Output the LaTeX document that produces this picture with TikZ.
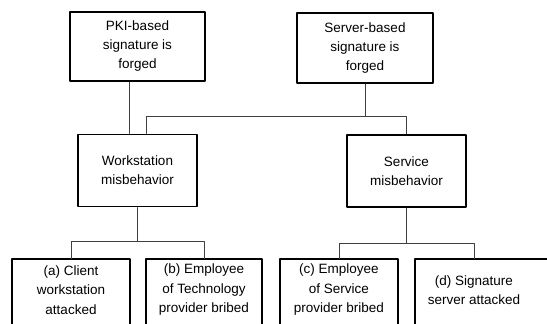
\documentclass[tikz,border=0pt]{standalone}
\usepackage{fontspec}
\setmainfont{Liberation Sans}
\usepackage{tikz}
\definecolor{linkgray}{rgb}{0.25,0.25,0.25}
\tikzset{
  goal/.style={draw,line width=1.9pt,align=center,inner sep=0pt,
    font=\fontsize{13.5}{19}\selectfont},
  leaf/.style={align=center,inner sep=0pt,minimum width=118pt,minimum height=62pt,
    font=\fontsize{13.5}{19.5}\selectfont},
  link/.style={line width=0.6pt,color=linkgray}
}

\begin{document}
\begin{tikzpicture}[line cap=round,line join=round,x=1pt,y=-1pt]
\useasboundingbox (0,0) rectangle (547,324);
\clip (0,0) rectangle (547,324);
\fill[white] (0,0) rectangle (547,324);
\node[goal,minimum width=135pt,minimum height=69pt] (pki) at (137.5,46.5) {PKI-based\\signature is\\forged};
\node[goal,minimum width=136pt,minimum height=70pt] (server) at (365,48) {Server-based\\signature is\\forged};
\node[goal,minimum width=119pt,minimum height=72pt] (work) at (137.5,170.5) {Workstation\\misbehavior};
\node[goal,minimum width=119pt,minimum height=72pt] (serv) at (406.5,171) {Service\\misbehavior};
\node[leaf] (a) at (71,290) {(a) Client\\workstation\\attacked};
\node[leaf,minimum width=116pt] (b) at (204,290) {(b) Employee\\of Technology\\provider bribed};
\node[leaf] (c) at (339,290) {(c) Employee\\of Service\\provider bribed};
\node[leaf] (d) at (474,290) {(d) Signature\\server attacked};
\foreach \n in {a,b,c}
  \draw[line width=1.9pt] ([yshift=-12pt]\n.south west) |- (\n.north east) -- ([yshift=-12pt]\n.south east);
% box d runs off the right edge
\draw[line width=1.9pt] ([yshift=-12pt]d.south west) |- ([xshift=30pt]d.north east);
\coordinate (pkiout) at ([xshift=-8.5pt]pki.south);
\draw[link] (pkiout) -- (pkiout |- work.north);
\coordinate (busin) at ([xshift=8.5pt]work.north);
\draw[link] (busin) -- ++(0,-17.5) coordinate (busy) -| (serv.north);
\draw[link] (server.south) -- (server.south |- busy);
\draw[link] (work.south) -- ++(0,34) coordinate (lowl);
\draw[link] (a.north) |- (lowl) -| (b.north);
\draw[link] (serv.south) -- ++(0,35) coordinate (lowr);
\draw[link] (c.north) |- (lowr) -| (d.north);
\end{tikzpicture}
\end{document}
